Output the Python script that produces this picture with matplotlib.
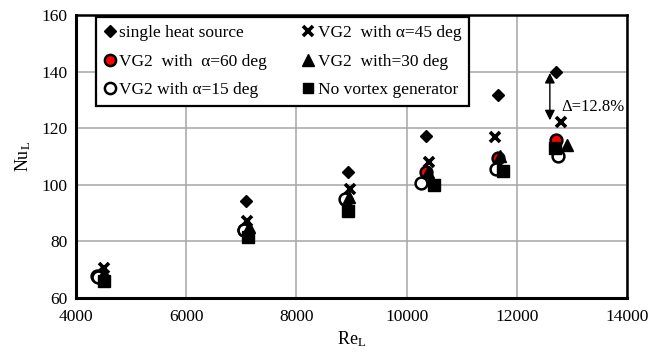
import matplotlib
matplotlib.use("Agg")
import matplotlib.pyplot as plt

plt.rcParams['font.family'] = ['Liberation Serif', 'DejaVu Serif']
plt.rcParams['mathtext.fontset'] = 'custom'
plt.rcParams['mathtext.rm'] = 'Liberation Serif'
plt.rcParams['mathtext.it'] = 'Liberation Serif:italic'

# Reynolds number / Nusselt number pairs for each configuration
re_single = [4450, 7085, 8930, 10350, 11650, 12710]
nu_single = [69.0, 94.3, 104.5, 117.2, 131.8, 139.7]

re_vg45 = [4510, 7100, 8980, 10410, 11600, 12800]
nu_vg45 = [70.5, 87.2, 98.4, 108.0, 116.9, 122.1]

re_vg60 = [4390, 7050, 8900, 10350, 11650, 12720]
nu_vg60 = [67.8, 84.2, 94.6, 104.4, 109.5, 115.9]

re_vg30 = [4500, 7140, 8960, 10390, 11690, 12920]
nu_vg30 = [68.8, 85.0, 95.8, 104.6, 110.0, 114.2]

re_vg15 = [4400, 7040, 8890, 10270, 11620, 12750]
nu_vg15 = [67.5, 84.0, 95.0, 100.6, 105.6, 110.2]

re_none = [4510, 7120, 8940, 10500, 11750, 12690]
nu_none = [66.0, 81.6, 90.8, 99.8, 105.0, 113.0]

x_ticks = [4000, 6000, 8000, 10000, 12000, 14000]
y_ticks = [60, 80, 100, 120, 140, 160]

fig = plt.figure(figsize=(6.48, 3.52), dpi=100)
ax = fig.add_axes([0.1173, 0.1534, 0.8503, 0.804])

h_single, = ax.plot(re_single, nu_single, linestyle='none', marker='D', ms=6.3,
                    color='black', zorder=3)
h_vg45, = ax.plot(re_vg45, nu_vg45, linestyle='none', marker='x', ms=7.5, mew=2.6,
                  color='black', zorder=3)
h_vg60, = ax.plot(re_vg60, nu_vg60, linestyle='none', marker='o', ms=8.5, mew=1.8,
                  mfc='red', mec='black', zorder=4)
h_vg15, = ax.plot(re_vg15, nu_vg15, linestyle='none', marker='o', ms=8.5, mew=1.8,
                  mfc='white', mec='black', zorder=4)
h_vg30, = ax.plot(re_vg30, nu_vg30, linestyle='none', marker='^', ms=8.5,
                  color='black', zorder=5)
h_none, = ax.plot(re_none, nu_none, linestyle='none', marker='s', ms=8,
                  color='black', zorder=6)

ax.set_xlim(4000, 14000)
ax.set_ylim(60, 160)
ax.set_xticks(x_ticks)
ax.set_yticks(y_ticks)
ax.tick_params(length=0, labelsize=12.5, colors='black')
ax.tick_params(axis='x', pad=8)
ax.tick_params(axis='y', pad=6)
ax.grid(True, color='#a6a6a6', linewidth=1.1)
ax.set_axisbelow(True)
for side, sp in ax.spines.items():
    sp.set_color('black')
    sp.set_linewidth(2.2 if side in ('left', 'bottom') else 1.8)

ax.set_xlabel(r'Re$_\mathrm{L}$', fontsize=13, labelpad=3)
ax.set_ylabel(r'Nu$_\mathrm{L}$', fontsize=13, labelpad=6)

# Difference between single heat source and the best vortex generator case
ax.annotate('', xy=(12600, 122.8), xytext=(12600, 139.5),
            arrowprops=dict(arrowstyle='<|-|>', color='black', lw=1.0,
                            mutation_scale=15, shrinkA=0, shrinkB=0), zorder=7)
ax.text(12800, 127.6, 'Δ=12.8%', fontsize=12, ha='left', va='center')

leg = ax.legend([h_single, h_vg60, h_vg15, h_vg45, h_vg30, h_none],
                ['single heat source', 'VG2  with  α=60 deg', 'VG2 with α=15 deg',
                 'VG2  with α=45 deg', 'VG2  with=30 deg', 'No vortex generator'],
                ncol=2, loc='upper left', bbox_to_anchor=(0.036, 0.993),
                fontsize=12.5, frameon=True, fancybox=False, framealpha=1,
                edgecolor='black', handlelength=0.7, handletextpad=0.2,
                labelspacing=0.72, columnspacing=2.0, borderpad=0.45,
                borderaxespad=0.0, markerscale=0.95)
leg.get_frame().set_linewidth(1.6)
leg.set_zorder(10)

fig.savefig('out.png', dpi=100)
